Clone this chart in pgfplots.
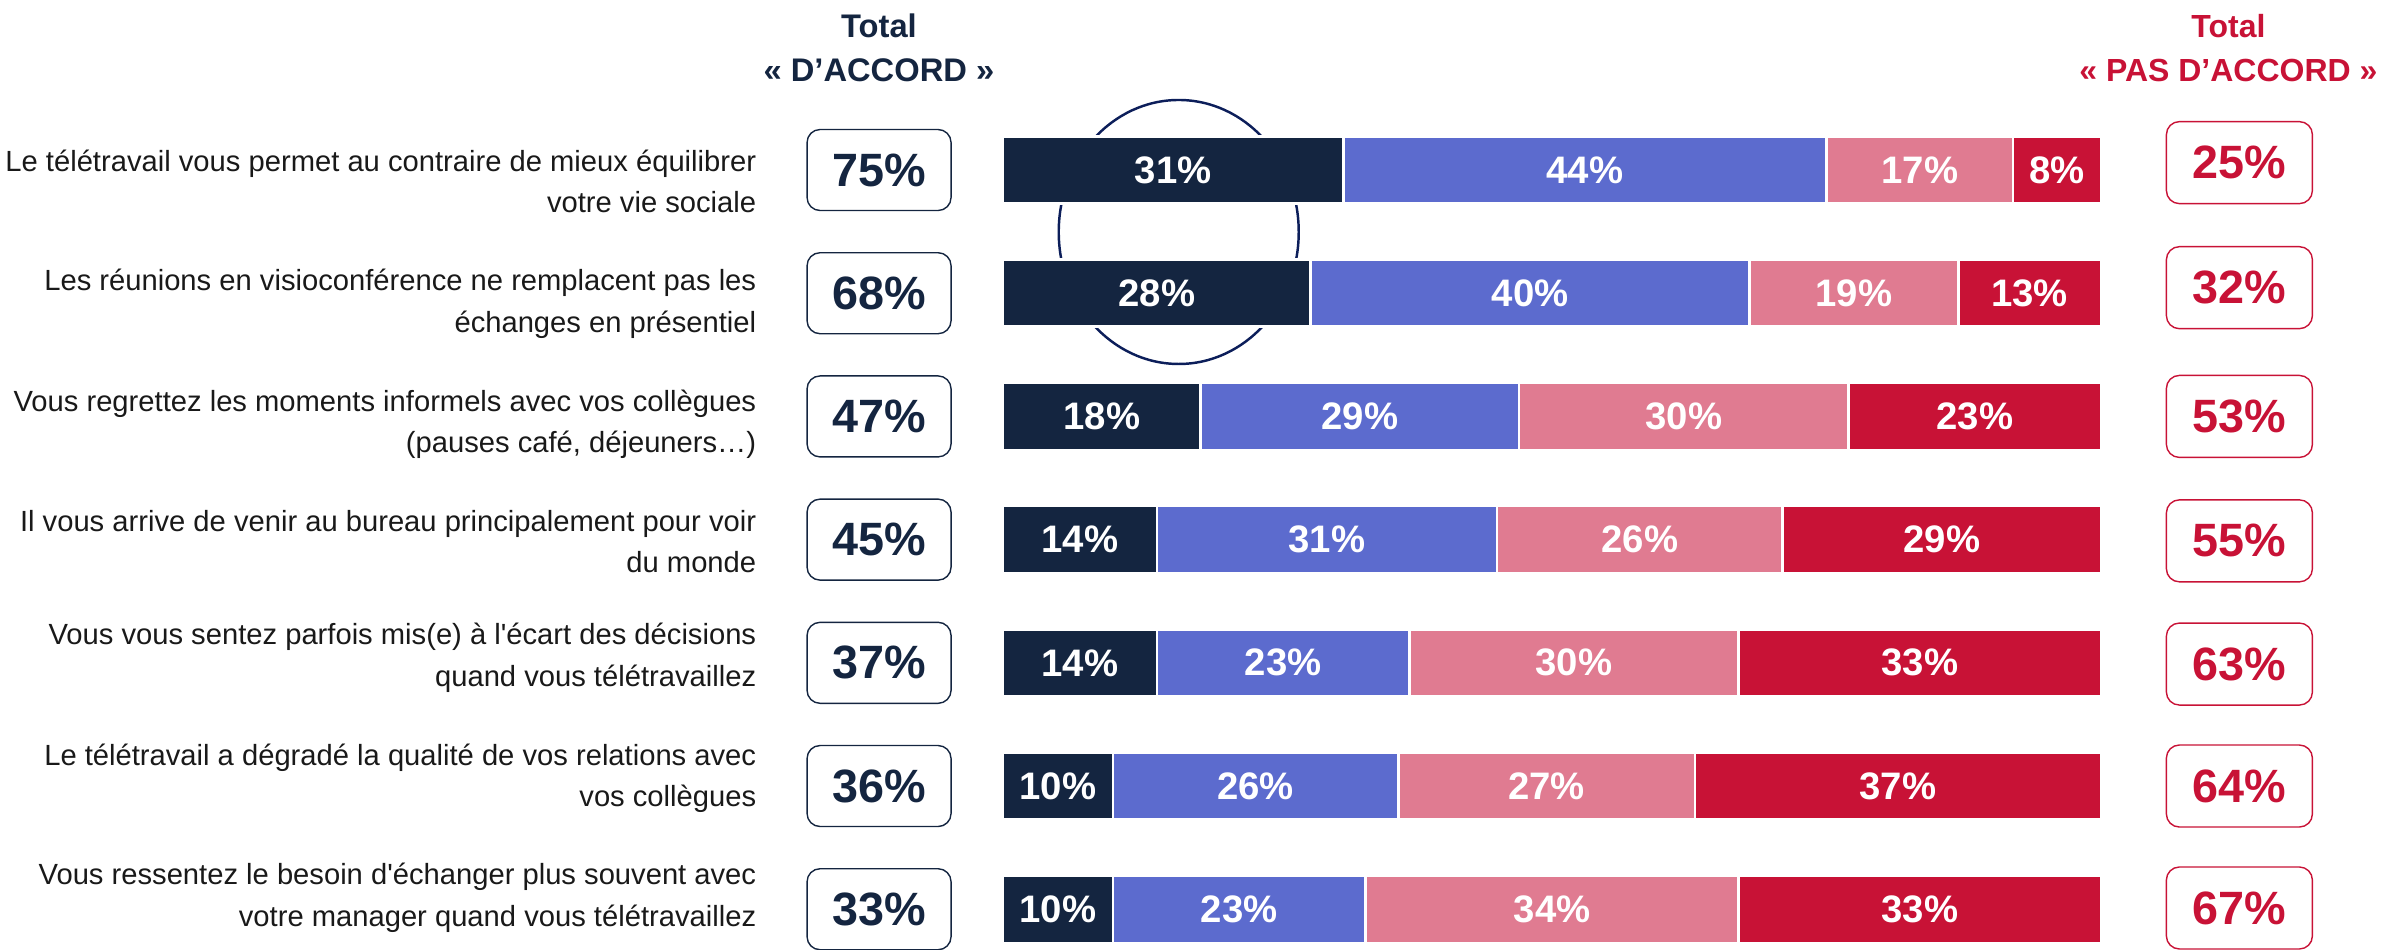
\documentclass[border=0pt]{standalone}
\usepackage{fontspec}
\setmainfont{Liberation Sans}
\usepackage{pgfplots}
\pgfplotsset{compat=1.18}
\definecolor{navy}{RGB}{20,37,64}
\definecolor{bleu}{RGB}{92,107,206}
\definecolor{rose}{RGB}{224,123,145}
\definecolor{rouge}{RGB}{200,18,54}
\definecolor{txt}{RGB}{25,25,25}
\definecolor{ring}{RGB}{12,30,90}
\pgfplotsset{base/.style={scale only axis, width=23.82cm, height=9.5cm,
  xmin=-91.35, xmax=125.59, ymin=-1.38, ymax=6.331, y dir=reverse,
  hide axis, clip=false, /pgf/number format/assume math mode=true}}
\begin{document}
\begin{tikzpicture}
\begin{axis}[base, xbar stacked, bar width=6.7mm,
  point meta=explicit,
  nodes near coords={\pgfmathprintnumber{\pgfplotspointmeta}\%},
  every node near coord/.append style={font=\fontsize{10.9}{12}\selectfont\bfseries, text=white}]
\addplot[fill=navy, draw=white, line width=0.7pt] coordinates {(31,0)[31] (28,1)[28] (18,2)[18] (14,3)[14] (14,4)[14] (10,5)[10] (10,6)[10]};
\addplot[fill=bleu, draw=white, line width=0.7pt] coordinates {(44,0)[44] (40,1)[40] (29,2)[29] (31,3)[31] (23,4)[23] (26,5)[26] (23,6)[23]};
\addplot[fill=rose, draw=white, line width=0.7pt] coordinates {(17,0)[17] (19,1)[19] (30,2)[30] (26,3)[26] (30,4)[30] (27,5)[27] (34,6)[34]};
\addplot[fill=rouge, draw=white, line width=0.7pt] coordinates {(8,0)[8] (13,1)[13] (23,2)[23] (29,3)[29] (33,4)[33] (37,5)[37] (33,6)[33]};
\draw[ring, line width=0.7pt] (axis cs:16,0.503) ellipse [x radius=12mm, y radius=13.2mm];
\end{axis}
\begin{axis}[base, name=ax]
\addplot[draw=none, mark=none, point meta=explicit,
  nodes near coords={\pgfmathprintnumber{\pgfplotspointmeta}\%},
  every node near coord/.style={anchor=center, draw=navy, rounded corners=1.3mm,
    minimum width=14.4mm, minimum height=8.1mm, line width=0.4pt, text=navy,
    font=\fontsize{13.3}{14}\selectfont\bfseries}]
  coordinates {(-11.29,0)[75] (-11.29,1)[68] (-11.29,2)[47] (-11.29,3)[45] (-11.29,4)[37] (-11.29,5)[36] (-11.29,6)[33]};
\addplot[draw=none, mark=none, point meta=explicit,
  nodes near coords={\pgfmathprintnumber{\pgfplotspointmeta}\%},
  every node near coord/.style={anchor=center, draw=rouge, rounded corners=1.3mm,
    minimum width=14.6mm, minimum height=8.2mm, line width=0.4pt, text=rouge,
    font=\fontsize{13.3}{14}\selectfont\bfseries}]
  coordinates {(112.6,-0.06)[25] (112.6,0.955)[32] (112.6,2)[53] (112.6,3.01)[55] (112.6,4.01)[63] (112.6,5)[64] (112.6,5.99)[67]};
\begin{scope}[every node/.style={anchor=east, align=right, text=txt, font=\fontsize{8.3}{11.7}\selectfont}]
\node at (axis cs:-21.35,0.094) {Le télétravail vous permet au contraire de mieux équilibrer\\votre vie sociale};
\node at (axis cs:-21.35,1.086) {Les réunions en visioconférence ne remplacent pas les\\échanges en présentiel};
\node at (axis cs:-21.35,2.067) {Vous regrettez les moments informels avec vos collègues\\(pauses café, déjeuners…)};
\node at (axis cs:-21.35,3.016) {Il vous arrive de venir au bureau principalement pour voir\\du monde};
\node at (axis cs:-21.35,3.959) {Vous vous sentez parfois mis(e) à l\textquotesingle écart des décisions\\quand vous télétravaillez};
\node at (axis cs:-21.35,4.939) {Le télétravail a dégradé la qualité de vos relations avec\\vos collègues};
\node at (axis cs:-21.35,5.907) {Vous ressentez le besoin d\textquotesingle échanger plus souvent avec\\votre manager quand vous télétravaillez};
\end{scope}
\node[align=center, text=navy, font=\fontsize{9.3}{12.5}\selectfont\bfseries] at (axis cs:-11.3,-0.99) {Total\\« D’ACCORD »};
\node[align=center, text=rouge, font=\fontsize{9.1}{12.5}\selectfont\bfseries] at (axis cs:111.6,-0.99) {Total\\« PAS D’ACCORD »};
\end{axis}
\pgfresetboundingbox
\path (ax.south west) rectangle (ax.north east);
\end{tikzpicture}
\end{document}
